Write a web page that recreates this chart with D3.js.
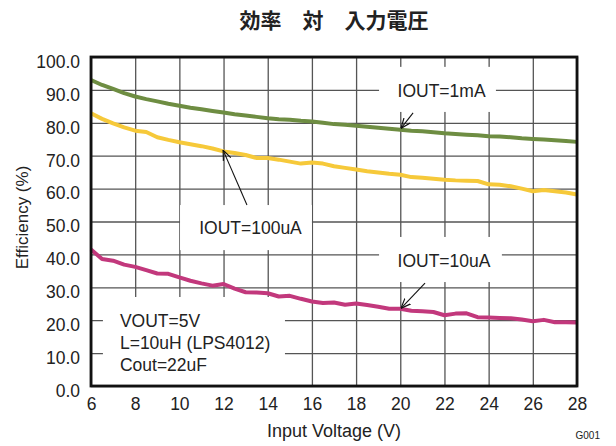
<!DOCTYPE html>
<html>
<head>
<meta charset="utf-8">
<script src="https://cdn.jsdelivr.net/npm/d3@7"></script>
<style>
  html, body { margin: 0; padding: 0; background: #fff; }
  svg { display: block; font-family: "Liberation Sans", Arial, sans-serif; }
</style>
</head>
<body>
<svg id="chart" width="616" height="446"></svg>
<script>
const title = "効率\u3000対\u3000入力電圧";
const xTitle = "Input Voltage (V)";
const yTitle = "Efficiency (%)";
const xTicks = [6, 8, 10, 12, 14, 16, 18, 20, 22, 24, 26, 28];
const yTicks = [0, 10, 20, 30, 40, 50, 60, 70, 80, 90, 100];

const voltages = [6, 6.5, 7, 7.5, 8, 8.5, 9, 9.5, 10, 10.5, 11, 11.5, 12, 12.5, 13, 13.5, 14, 14.5, 15, 15.5,
  16, 16.5, 17, 17.5, 18, 18.5, 19, 19.5, 20, 20.5, 21, 21.5, 22, 22.5, 23, 23.5, 24, 24.5, 25, 25.5,
  26, 26.5, 27, 27.5, 28];

const eff1mA = [93.0, 91.5, 90.3, 89.0, 88.0, 87.2, 86.5, 85.8, 85.2, 84.6, 84.1, 83.6, 83.1, 82.6, 82.2, 81.8,
  81.4, 81.1, 80.9, 80.6, 80.4, 80.0, 79.6, 79.4, 79.1, 78.8, 78.5, 78.2, 77.9, 77.6, 77.4, 77.1, 76.8,
  76.6, 76.4, 76.2, 75.9, 75.8, 75.6, 75.3, 75.1, 74.9, 74.7, 74.5, 74.2];

const eff100uA = [82.9, 81.2, 79.8, 78.6, 77.6, 77.2, 75.6, 74.8, 74.1, 73.5, 72.9, 72.2, 71.3, 70.8, 70.2, 69.3,
  69.3, 68.8, 68.2, 67.6, 67.9, 67.6, 66.8, 66.3, 65.8, 65.3, 64.9, 64.5, 64.2, 63.5, 63.3, 63.0, 62.7,
  62.5, 62.4, 62.3, 61.3, 61.2, 60.7, 60.0, 59.2, 59.6, 59.2, 58.8, 58.2];

const eff10uA = [41.5, 38.6, 38.1, 36.9, 36.2, 35.2, 34.2, 34.1, 33.0, 32.0, 31.2, 30.5, 31.0, 29.6, 28.5, 28.4,
  28.2, 27.2, 27.4, 26.5, 25.7, 25.2, 25.4, 24.7, 25.1, 24.6, 24.1, 23.5, 23.5, 22.9, 22.7, 22.5, 21.5,
  22.0, 22.1, 20.9, 20.8, 20.7, 20.6, 20.2, 19.7, 20.1, 19.4, 19.4, 19.3];

const seriesNames = ["IOUT=1mA", "IOUT=100uA", "IOUT=10uA"];
const seriesColors = ["#6e8d42", "#f6c93a", "#c2387c"];

// annotation labels (data-space anchors)
const labelText = ["IOUT=1mA", "IOUT=100uA", "IOUT=10uA"];
const labelBoxes = [[19.04, 24.33, 97.0, 83.3], [10.03, 16.0, 55.0, 41.3], [19.04, 24.6, 45.3, 31.6]];
const labelPos = [[21.87, 89.7], [13.22, 48.0], [21.98, 38.0]];
const arrowFrom = [[20.58, 83.0], [13.06, 55.0], [21.12, 31.3]];
const arrowTo = [[20.03, 78.3], [11.98, 71.7], [20.03, 23.6]];

const condText = ["VOUT=5V", "L=10uH (LPS4012)", "Cout=22uF"];
const condBox = [6.54, 14.78, 27.05, 0];
const condPos = [7.31, 17.9];

const W = 616, H = 446;
const margin = { left: 91, right: 39, top: 57, bottom: 60 };
const iw = W - margin.left - margin.right;
const ih = H - margin.top - margin.bottom;

const svg = d3.select("#chart");
const x = d3.scaleLinear().domain([6, 28]).range([margin.left, margin.left + iw]);
const y = d3.scaleLinear().domain([0, 100]).range([margin.top + ih, margin.top]);

// Title
svg.append("text")
  .attr("x", (x(6) + x(28)) / 2).attr("y", 28)
  .attr("text-anchor", "middle")
  .style("font-family", "'Noto Sans CJK JP', sans-serif")
  .style("font-weight", "bold")
  .style("font-size", "21px")
  .style("white-space", "pre")
  .attr("fill", "#222")
  .text(title);

// Gridlines
const grid = svg.append("g");
grid.append("g")
  .attr("transform", `translate(0,${margin.top + ih})`)
  .call(d3.axisBottom(x).tickValues(xTicks).tickSize(-ih).tickFormat(""))
  .call(g => g.select(".domain").remove())
  .call(g => g.selectAll("line").attr("stroke", "#555").attr("stroke-width", 1.3));
grid.append("g")
  .attr("transform", `translate(${margin.left},0)`)
  .call(d3.axisLeft(y).tickValues(yTicks).tickSize(-iw).tickFormat(""))
  .call(g => g.select(".domain").remove())
  .call(g => g.selectAll("line").attr("stroke", "#555").attr("stroke-width", 1.3));

// White label boxes
const boxes = labelBoxes.concat([condBox]);
svg.append("g").selectAll("rect").data(boxes).join("rect")
  .attr("x", d => x(d[0]))
  .attr("y", d => y(d[2]))
  .attr("width", d => x(d[1]) - x(d[0]))
  .attr("height", d => y(d[3]) - y(d[2]))
  .attr("fill", "#fff");

// Curves
const allSeries = [eff1mA, eff100uA, eff10uA];
const line = d3.line().x((d, i) => x(voltages[i])).y(d => y(d)).curve(d3.curveLinear);
svg.append("g").selectAll("path").data(allSeries).join("path")
  .attr("d", d => line(d))
  .attr("fill", "none")
  .attr("stroke", (d, i) => seriesColors[i])
  .attr("stroke-width", 4)
  .attr("stroke-linejoin", "round")
  .attr("stroke-linecap", "butt");

// Plot border
svg.append("rect")
  .attr("x", margin.left).attr("y", margin.top)
  .attr("width", iw).attr("height", ih)
  .attr("fill", "none").attr("stroke", "#111").attr("stroke-width", 2.8);

// Axis tick labels
const xAxisG = svg.append("g")
  .attr("transform", `translate(0,${margin.top + ih})`)
  .call(d3.axisBottom(x).tickValues(xTicks).tickSize(0).tickPadding(0).tickFormat(d3.format("d")));
xAxisG.select(".domain").remove();
xAxisG.selectAll("text")
  .attr("y", 24).attr("dy", null)
  .attr("fill", "#222")
  .style("font-size", "17.5px")
  .style("font-family", "'Liberation Sans', Arial, sans-serif");

const yAxisG = svg.append("g")
  .attr("transform", `translate(${margin.left},0)`)
  .call(d3.axisLeft(y).tickValues(yTicks).tickSize(0).tickPadding(0).tickFormat(d3.format(".1f")));
yAxisG.select(".domain").remove();
yAxisG.selectAll("text")
  .attr("x", -11).attr("dy", null).attr("y", 10.3)
  .attr("fill", "#222")
  .style("font-size", "17.5px")
  .style("font-family", "'Liberation Sans', Arial, sans-serif");

// Axis titles
svg.append("text")
  .attr("x", (x(6) + x(28)) / 2).attr("y", 437)
  .attr("text-anchor", "middle")
  .attr("fill", "#222")
  .style("font-size", "18px")
  .text(xTitle);

svg.append("text")
  .attr("transform", `translate(28,${(y(0) + y(100)) / 2 - 4}) rotate(-90)`)
  .attr("text-anchor", "middle")
  .attr("fill", "#222")
  .style("font-size", "17px")
  .text(yTitle);

svg.append("text")
  .attr("x", 600).attr("y", 439)
  .attr("text-anchor", "end")
  .attr("fill", "#222")
  .style("font-size", "10px")
  .text("G001");

// Annotation labels
svg.append("g").selectAll("text").data(labelText).join("text")
  .attr("x", (d, i) => x(labelPos[i][0]))
  .attr("y", (d, i) => y(labelPos[i][1]))
  .attr("text-anchor", "middle")
  .attr("dominant-baseline", "central")
  .attr("fill", "#222")
  .style("font-size", "17.5px")
  .text(d => d);

// Conditions
const cond = svg.append("text")
  .attr("x", x(condPos[0]))
  .attr("y", y(condPos[1]))
  .attr("fill", "#222")
  .style("font-size", "17.5px");
cond.selectAll("tspan").data(condText).join("tspan")
  .attr("x", x(condPos[0]))
  .attr("dy", (d, i) => i === 0 ? 0 : 21.8)
  .text(d => d);

// Arrows
const defs = svg.append("defs");
defs.append("marker")
  .attr("id", "arrowhead")
  .attr("viewBox", "0 0 10 10")
  .attr("refX", 10).attr("refY", 5)
  .attr("markerWidth", 10).attr("markerHeight", 10)
  .attr("markerUnits", "userSpaceOnUse")
  .attr("orient", "auto")
  .append("path")
  .attr("d", "M0,1 L10,5 L0,9")
  .attr("fill", "none")
  .attr("stroke", "#111")
  .attr("stroke-width", 1.2);

svg.append("g").selectAll("line").data(arrowFrom).join("line")
  .attr("x1", d => x(d[0])).attr("y1", d => y(d[1]))
  .attr("x2", (d, i) => x(arrowTo[i][0])).attr("y2", (d, i) => y(arrowTo[i][1]))
  .attr("stroke", "#111")
  .attr("stroke-width", 1.1)
  .attr("marker-end", "url(#arrowhead)");
</script>
</body>
</html>
